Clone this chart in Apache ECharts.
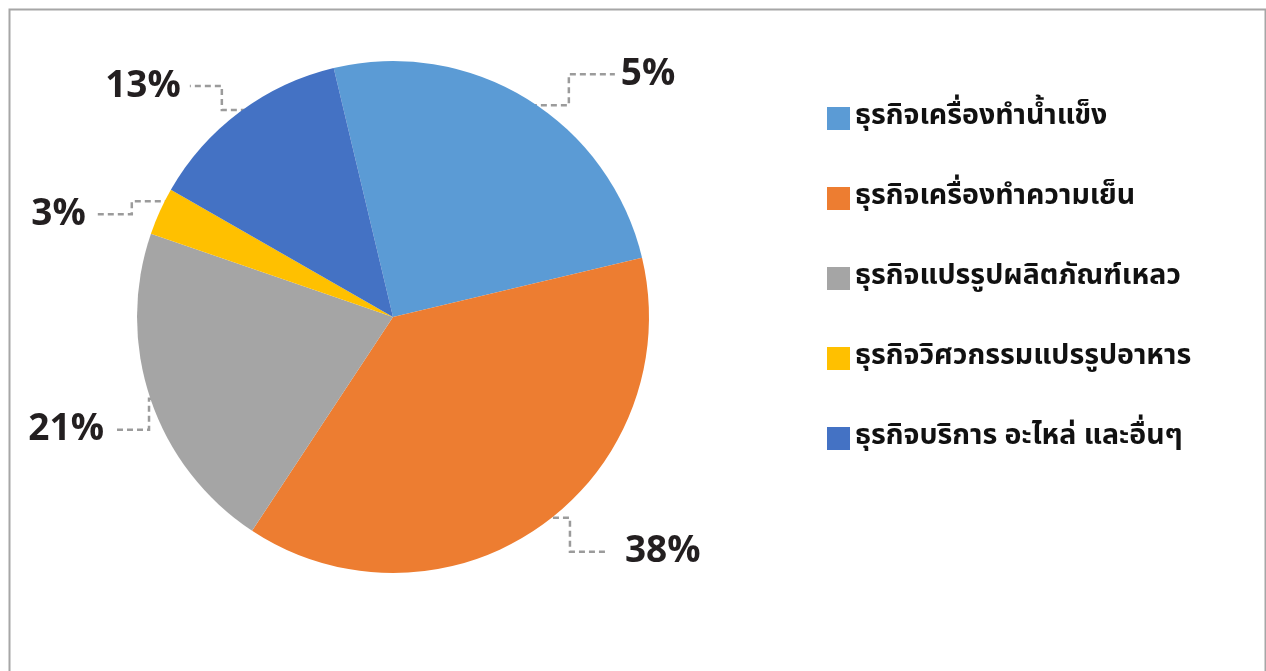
<!DOCTYPE html>
<html>
<head>
<meta charset="utf-8">
<script src="https://cdn.jsdelivr.net/npm/echarts@6/dist/echarts.min.js"></script>
<style>
html,body{margin:0;padding:0;background:#fff;}
#chart{width:1266px;height:671px;}
</style>
</head>
<body>
<div id="chart"></div>
<script>
// ---- data ----
const categories = [
  'ธุรกิจเครื่องทำน้ำแข็ง',
  'ธุรกิจเครื่องทำความเย็น',
  'ธุรกิจแปรรูปผลิตภัณฑ์เหลว',
  'ธุรกิจวิศวกรรมแปรรูปอาหาร',
  'ธุรกิจบริการ อะไหล่ และอื่นๆ'
];
const sliceValues = [25, 38, 21, 3, 13];
const labelTexts = ['5%', '38%', '21%', '3%', '13%'];

// ---- styles / layout ----
const colors = ['#5b9bd5', '#ed7d31', '#a5a5a5', '#ffc000', '#4472c4'];
// leader line elbows: [startDy, turnDx, labelDy, endDx, gap]
const leaderLayout = [
  [-4, 48, -31, 46, 6],
  [1, 37, 34, 39, 16],
  [3, 13, 31, 36, 9],
  [-15, 39, 13, 36, 10],
  [-11.5, 25, -24, 32, 9]
];
const INSET = 12;

const chart = echarts.init(document.getElementById('chart'), null, {renderer: 'canvas'});

const option = {
  backgroundColor: '#ffffff',
  animation: false,
  color: colors,
  graphic: [{
    type: 'rect',
    left: 7, top: 7,
    shape: {width: 1256, height: 700},
    style: {fill: 'none', stroke: '#a6a6a6', lineWidth: 2},
    silent: true
  }],
  legend: {
    orient: 'vertical',
    left: 822,
    top: 99,
    itemWidth: 23,
    itemHeight: 23,
    itemGap: 51,
    icon: 'rect',
    data: categories,
    textStyle: {
      fontFamily: '"Noto Sans Thai", "Noto Sans", "DejaVu Sans", sans-serif',
      fontSize: 28.5,
      fontWeight: 'bold',
      height: 23,
      lineHeight: 23,
      color: '#111111',
      padding: [0, 0, 0, 0]
    }
  },
  series: [{
    type: 'pie',
    center: [393, 317],
    radius: 256,
    startAngle: 103.4,
    clockwise: true,
    avoidLabelOverlap: false,
    data: categories.map((c, i) => ({name: c, value: sliceValues[i]})),
    itemStyle: {borderWidth: 0},
    label: {
      show: true,
      position: 'outside',
      formatter: p => labelTexts[p.dataIndex],
      fontFamily: '"Open Sans", "Liberation Sans", sans-serif',
      fontWeight: 'bold',
      fontSize: 37,
      color: '#231f20'
    },
    labelLine: {
      show: true,
      length: 10,
      length2: 10,
      lineStyle: {color: '#9b9b9b', width: 2.5, type: [6, 4]}
    },
    labelLayout: function (params) {
      const pts = params.labelLinePoints;
      if (!pts) return {};
      const p0 = pts[0], p1 = pts[1];
      const dx = p1[0] - p0[0], dy = p1[1] - p0[1];
      const len = Math.sqrt(dx * dx + dy * dy) || 1;
      const ux = dx / len, uy = dy / len;
      const side = ux >= 0 ? 1 : -1;
      const L = leaderLayout[params.dataIndex];
      const sx = p0[0] - ux * INSET;
      const sy = p0[1] - uy * INSET + L[0];
      const tx = sx + side * L[1];
      const ly = sy + L[2];
      const ex = tx + side * L[3];
      const labelX = ex + side * L[4];
      return {
        x: labelX,
        y: ly,
        align: side > 0 ? 'left' : 'right',
        verticalAlign: 'middle',
        labelLinePoints: [[sx, sy], [tx, sy], [tx, ly], [ex, ly]]
      };
    }
  }]
};
chart.setOption(option);
</script>
</body>
</html>
